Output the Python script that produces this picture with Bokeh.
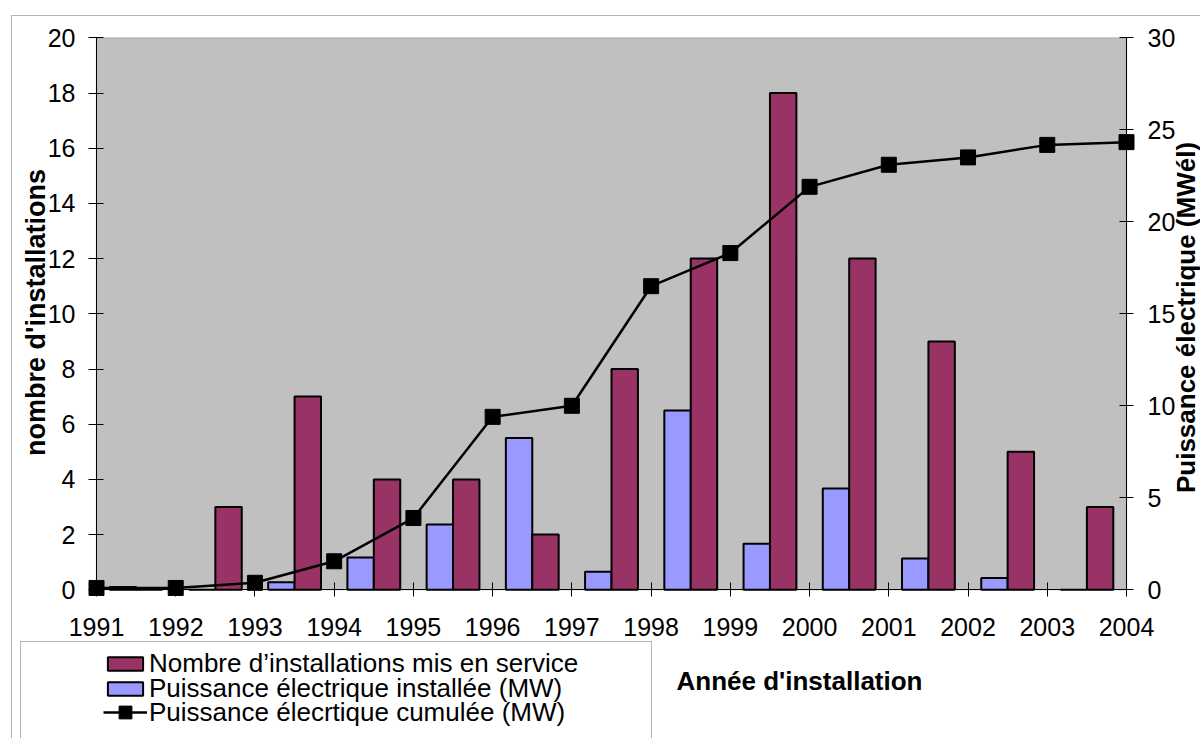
import math
from bokeh.plotting import figure
from bokeh.models import (Range1d, LinearAxis, FixedTicker, Legend, LegendItem,
                          Label, BoxAnnotation, ColumnDataSource)
from bokeh.transform import dodge
from bokeh.embed import file_html
from bokeh.resources import INLINE

# ---------------- data ----------------
annees = [1991, 1992, 1993, 1994, 1995, 1996, 1997, 1998, 1999, 2000, 2001, 2002, 2003, 2004]
annees_barres = [1991, 1992, 1993, 1994, 1995, 1996, 1997, 1998, 1999, 2000, 2001, 2002, 2003]
nombre_installations = [None, 3, 7, 4, 4, 2, 8, 12, 18, 12, 9, 5, 3]
puissance_installee = [0.1, None, 0.27, 1.17, 2.37, 5.5, 0.65, 6.5, 1.67, 3.67, 1.13, 0.43, None]
puissance_cumulee = [0.1, 0.1, 0.38, 1.55, 3.9, 9.4, 10.0, 16.5, 18.3, 21.9, 23.1, 23.5, 24.18, 24.33]
ticks_gauche = [0, 2, 4, 6, 8, 10, 12, 14, 16, 18, 20]
ticks_droite = [0, 5, 10, 15, 20, 25, 30]
borne_gauche = (0, 20)
borne_droite = (0, 30)
libelles = ["Nombre d\u2019installations mis en service",
            "Puissance électrique installée (MW)",
            "Puissance élecrtique cumulée (MW)"]

FONT = "Liberation Sans"
W, H = 1200, 738
# plot-area pixel box on the page
PX_L, PX_R, PX_T, PX_B = 96.0, 1126.0, 37.3, 589.3

x0, x1 = annees[0], annees[-1]
ppx = (PX_R - PX_L) / (x1 - x0)
ppy = (PX_B - PX_T) / (borne_gauche[1] - borne_gauche[0])
ppy2 = (PX_B - PX_T) / (borne_droite[1] - borne_droite[0])
xr = Range1d(x0 - PX_L / ppx, x1 + (W - PX_R) / ppx)
yr = Range1d(borne_gauche[0] - (H - PX_B) / ppy, borne_gauche[1] + PX_T / ppy)
yr2 = Range1d(borne_droite[0] - (H - PX_B) / ppy2, borne_droite[1] + PX_T / ppy2)

p = figure(width=W, height=H, x_range=xr, y_range=yr,
           output_backend="svg", toolbar_location=None, title=None,
           x_axis_location=None, y_axis_location=None,
           min_border=0, min_border_left=0, min_border_right=0,
           min_border_top=0, min_border_bottom=0,
           background_fill_color="white", border_fill_color="white",
           outline_line_color=None)
p.extra_y_ranges = {"droite": yr2}
p.grid.visible = False

# outer chart border
p.add_layout(BoxAnnotation(left=11, right=W + 50, top=H - 15, bottom=-50,
                           left_units="screen", right_units="screen",
                           top_units="screen", bottom_units="screen",
                           fill_alpha=0, line_color="black", line_width=1, level="underlay"))
# plot area
p.add_layout(BoxAnnotation(left=x0, right=x1, bottom=borne_gauche[0], top=borne_gauche[1],
                           fill_color="#C0C0C0", fill_alpha=1, line_color="#808080",
                           line_width=1.5, level="underlay"))

src = ColumnDataSource(dict(annee=annees_barres, nombre=nombre_installations,
                            puissance=puissance_installee))
r_p = p.vbar(x=dodge("annee", 1 / 3), top="puissance", width=1 / 3, source=src,
             fill_color="#9999FF", line_color="black", line_width=2)
r_n = p.vbar(x=dodge("annee", 2 / 3), top="nombre", width=1 / 3, source=src,
             fill_color="#993366", line_color="black", line_width=2)
r_l = p.line(annees, puissance_cumulee, y_range_name="droite", line_color="black", line_width=2.5)
r_s = p.scatter(annees, puissance_cumulee, y_range_name="droite", marker="square", size=15,
                fill_color="black", line_color="black")


def style_axis(ax, ticks):
    ax.ticker = FixedTicker(ticks=ticks)
    ax.axis_line_color = "black"
    ax.axis_line_width = 1
    ax.major_tick_line_color = "black"
    ax.major_tick_line_width = 1
    ax.minor_tick_line_color = None
    ax.major_tick_in = 7
    ax.major_tick_out = 7
    ax.major_label_text_font = FONT
    ax.major_label_text_font_size = "25px"
    ax.major_label_text_color = "black"


xa = LinearAxis(fixed_location=borne_gauche[0], bounds=(x0, x1))
style_axis(xa, annees)
xa.major_label_standoff = 21
p.add_layout(xa, "below")

ya = LinearAxis(fixed_location=x0, bounds=borne_gauche)
style_axis(ya, ticks_gauche)
ya.major_tick_out = 8
ya.major_label_standoff = 13
p.add_layout(ya, "left")

ra = LinearAxis(y_range_name="droite", fixed_location=x1, bounds=borne_droite)
style_axis(ra, ticks_droite)
ra.major_label_standoff = 14
p.add_layout(ra, "right")

# axis titles
p.add_layout(Label(x=35, y=H - 312, x_units="screen", y_units="screen",
                   text="nombre d'installations", angle=math.pi / 2,
                   text_align="center", text_baseline="middle", text_font=FONT,
                   text_font_style="bold", text_font_size="27px", text_color="black"))
p.add_layout(Label(x=1185, y=H - 317, x_units="screen", y_units="screen",
                   text="Puissance électrique (MWél)", angle=math.pi / 2,
                   text_align="center", text_baseline="middle", text_font=FONT,
                   text_font_style="bold", text_font_size="26px", text_color="black"))
p.add_layout(Label(x=799, y=H - 680, x_units="screen", y_units="screen",
                   text="Année d'installation", text_align="center", text_baseline="middle",
                   text_font=FONT, text_font_style="bold", text_font_size="26px",
                   text_color="black"))

# legend box
p.add_layout(BoxAnnotation(left=20, right=651, top=H - 641, bottom=-50,
                           left_units="screen", right_units="screen",
                           top_units="screen", bottom_units="screen",
                           fill_color="white", fill_alpha=1, line_color="black", line_width=1))

# one legend per row so that the rows can sit as close as in the original
rangs = [[r_n], [r_p], [r_l, r_s]]
centres_y = [663, 687.5, 712]   # row centres on the page (px from top)
hauteurs_glyphe = [17, 17, 32]
ITEM_H = 32
for lib, rs, cy, gh in zip(libelles, rangs, centres_y, hauteurs_glyphe):
    lg = Legend(items=[LegendItem(label=lib, renderers=rs)],
                location=(103, H - (cy + ITEM_H / 2)), border_line_color=None,
                background_fill_alpha=0, label_text_font=FONT, label_text_font_size="26px",
                label_text_color="black", glyph_width=44, glyph_height=gh,
                spacing=0, padding=0, margin=0, label_standoff=2)
    p.add_layout(lg)

open("out.html", "w").write(file_html(p, INLINE))
